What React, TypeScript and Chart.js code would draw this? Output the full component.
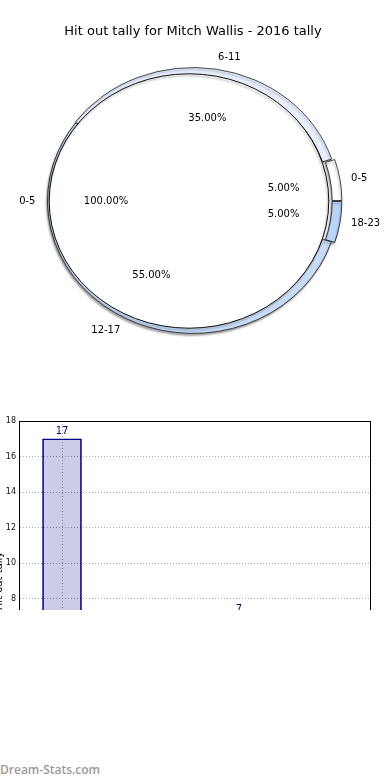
import React, { useEffect, useRef } from 'react';
import { Chart, registerables } from 'chart.js';

Chart.register(...registerables);
Chart.defaults.font.family = '"DejaVu Sans", sans-serif';

// ---------- data ----------
const TITLE = 'Hit out tally for Mitch Wallis - 2016 tally';
const ringLabels = ['6-11', '0-5', '18-23', '12-17'];
const ringValues = [35, 5, 5, 55];
const ringColors = ['#e7eefd', '#ffffff', '#b8d4f9', '#c7dbf7'];
const innerLabels = ['0-5'];
const innerValues = [100];
const innerColors = ['#ffffff'];

const barCategories = ['2016', '2017'];
const barPositions = [0, 1];
const barValues = [17, 7];
const xTickValues = [0];
const yTickStep = 2;
const yMin = 0;
const yMax = 18;
const yTitle = 'Hit out tally';
const WATERMARK = 'Dream-Stats.com';

// ---------- style constants ----------
const SQUASH = 0.91;
const LABEL_DIST = [1.1, 1.16];
const PCT_DIST = [0.63, 0.64];

function setShadow(ctx: CanvasRenderingContext2D, on: boolean) {
  ctx.shadowColor = on ? 'rgba(0,0,0,0.35)' : 'transparent';
  ctx.shadowOffsetX = on ? -1 : 0;
  ctx.shadowOffsetY = on ? 2 : 0;
  ctx.shadowBlur = on ? 2 : 0;
}

const squashPlugin = {
  id: 'squash',
  beforeDatasetsDraw(chart: any) {
    const arc = chart.getDatasetMeta(0).data[0];
    const cx = arc.x;
    const cy = arc.y;
    const ctx = chart.ctx;
    ctx.save();
    ctx.translate(cx, cy);
    ctx.scale(1, SQUASH);
    ctx.translate(-cx, -cy);
  },
  beforeDatasetDraw(chart: any, args: any) {
    setShadow(chart.ctx, args.index === 0);
  },
  afterDatasetDraw(chart: any, args: any) {
    const ctx = chart.ctx;
    if (args.index === 1) {
      const arc = chart.getDatasetMeta(1).data[0];
      const off = (arc.options.offset || 0) / 4;
      const mid = (arc.startAngle + arc.endAngle) / 2;
      ctx.save();
      setShadow(ctx, true);
      ctx.beginPath();
      ctx.arc(arc.x + Math.cos(mid) * off, arc.y + Math.sin(mid) * off, arc.outerRadius + off, 0, Math.PI * 2);
      ctx.strokeStyle = '#000';
      ctx.lineWidth = 1;
      ctx.stroke();
      ctx.restore();
    }
    setShadow(ctx, false);
  },
  afterDatasetsDraw(chart: any) {
    chart.ctx.restore();
  },
};

const pieLabelPlugin = {
  id: 'pieLabels',
  afterDraw(chart: any) {
    const ctx = chart.ctx;
    ctx.save();
    ctx.font = '10px "DejaVu Sans", sans-serif';
    ctx.fillStyle = '#000';
    ctx.textBaseline = 'middle';
    chart.data.datasets.forEach((ds: any, di: number) => {
      const meta = chart.getDatasetMeta(di);
      const labels = di === 0 ? ringLabels : innerLabels;
      const total = ds.data.reduce((a: number, b: number) => a + b, 0);
      meta.data.forEach((arc: any, i: number) => {
        const p = arc.getProps(['x', 'y', 'startAngle', 'endAngle', 'outerRadius'], true);
        const mid = (p.startAngle + p.endAngle) / 2;
        const c = Math.cos(mid);
        const s = Math.sin(mid);
        const lr = p.outerRadius * LABEL_DIST[di];
        ctx.textAlign = c > 0.001 ? 'left' : 'right';
        ctx.fillText(labels[i], p.x + c * lr, p.y + s * lr * SQUASH);
        const pr = p.outerRadius * PCT_DIST[di];
        ctx.textAlign = 'center';
        ctx.fillText(((ds.data[i] / total) * 100).toFixed(2) + '%', p.x + c * pr, p.y + s * pr * SQUASH);
      });
    });
    ctx.restore();
  },
};

const framePlugin = {
  id: 'frame',
  afterDatasetsDraw(chart: any) {
    const { left, top, right, bottom } = chart.chartArea;
    const ctx = chart.ctx;
    ctx.save();
    ctx.strokeStyle = '#000';
    ctx.lineWidth = 1;
    ctx.strokeRect(Math.round(left) + 0.5, Math.round(top) + 0.5, Math.round(right - left), Math.round(bottom - top));
    ctx.restore();
  },
};

const barValuePlugin = {
  id: 'barValues',
  afterDatasetsDraw(chart: any) {
    const ctx = chart.ctx;
    ctx.save();
    ctx.font = '10px "DejaVu Sans", sans-serif';
    ctx.fillStyle = '#000080';
    ctx.textAlign = 'center';
    ctx.textBaseline = 'bottom';
    const meta = chart.getDatasetMeta(0);
    meta.data.forEach((bar: any, i: number) => {
      ctx.fillText(String(barValues[i]), bar.x, bar.y - 2);
    });
    ctx.restore();
  },
};

export default function App() {
  const pieRef = useRef<HTMLCanvasElement>(null);
  const barRef = useRef<HTMLCanvasElement>(null);

  useEffect(() => {
    const pie = new Chart(pieRef.current as HTMLCanvasElement, {
      type: 'doughnut',
      data: {
        labels: ringLabels,
        datasets: [
          {
            data: ringValues,
            backgroundColor: ringColors,
            borderColor: '#111',
            borderWidth: 0.8,
            weight: 1,
            order: 1,
            rotation: -54,
            offset: [4, 8, 8, 0],
          } as any,
          {
            data: innerValues,
            backgroundColor: innerColors,
            borderColor: '#000',
            borderWidth: 0,
            weight: 14,
            order: 0,
            rotation: 90,
            offset: [16],
          } as any,
        ],
      },
      options: {
        animation: false,
        responsive: false,
        radius: 145.5,
        cutout: 0,
        layout: { padding: { top: 14, bottom: 47.6, left: 0, right: 4 } },
        plugins: {
          legend: { display: false },
          tooltip: { enabled: false },
          title: {
            display: true,
            text: TITLE,
            color: '#000',
            font: { size: 13, weight: 'normal' },
            padding: { top: 10, bottom: 10 },
          },
        },
      } as any,
      plugins: [squashPlugin, pieLabelPlugin],
    });

    const yTicks: number[] = [];
    for (let v = yMin; v <= yMax; v += yTickStep) yTicks.push(v);

    const bar = new Chart(barRef.current as HTMLCanvasElement, {
      type: 'bar',
      data: {
        datasets: [
          {
            data: barPositions.map((p, i) => ({ x: p, y: barValues[i] })),
            backgroundColor: 'rgba(0,0,128,0.2)',
            borderColor: '#000080',
            borderWidth: 1,
            barThickness: 39,
          } as any,
        ],
      },
      options: {
        animation: false,
        responsive: false,
        layout: { padding: { top: 21, right: 20, left: 0, bottom: 19 } },
        plugins: { legend: { display: false }, tooltip: { enabled: false } },
        scales: {
          x: {
            type: 'linear',
            min: -0.243,
            max: 1.74,
            offset: false,
            afterBuildTicks: (s: any) => {
              s.ticks = xTickValues.map((v) => ({ value: v }));
            },
            afterFit: (s: any) => {
              s.height = 20;
            },
            ticks: {
              font: { size: 9 },
              color: '#000',
              callback: (v: any) => barCategories[barPositions.indexOf(Number(v))] ?? '',
            },
            grid: { color: '#a8a8a8', drawTicks: false, lineWidth: 1, offset: false },
            border: { display: true, color: '#000', dash: [1, 2] },
          },
          y: {
            type: 'linear',
            min: yMin,
            max: yMax,
            afterBuildTicks: (s: any) => {
              s.ticks = yTicks.map((v) => ({ value: v }));
            },
            afterFit: (s: any) => {
              s.width = 26;
            },
            ticks: { font: { size: 8 }, color: '#111', padding: 3 },
            grid: { color: '#a8a8a8', drawTicks: false, lineWidth: 1 },
            border: { display: true, color: '#000', dash: [1, 2] },
            title: { display: true, text: yTitle, font: { size: 10 }, color: '#000', padding: 0 },
          },
        },
      } as any,
      plugins: [framePlugin, barValuePlugin],
    });

    return () => {
      pie.destroy();
      bar.destroy();
    };
  }, []);

  return (
    <div
      style={{
        position: 'absolute',
        left: 0,
        top: 0,
        width: 390,
        height: 780,
        overflow: 'hidden',
        background: '#fff',
      }}
    >
      <canvas
        ref={pieRef}
        width={390}
        height={400}
        style={{ position: 'absolute', left: 0, top: 0, width: 390, height: 400 }}
      />
      <div style={{ position: 'absolute', left: 0, top: 400, width: 390, height: 210, overflow: 'hidden' }}>
        <canvas
          ref={barRef}
          width={397}
          height={380}
          style={{ position: 'absolute', left: -7, top: 0, width: 397, height: 380 }}
        />
      </div>
      <div
        style={{
          position: 'absolute',
          left: 0,
          top: 761,
          fontFamily: '"Open Sans", sans-serif',
          fontWeight: 600,
          fontSize: 12,
          color: '#9a9a9a',
          whiteSpace: 'nowrap',
        }}
      >
        {WATERMARK}
      </div>
    </div>
  );
}
